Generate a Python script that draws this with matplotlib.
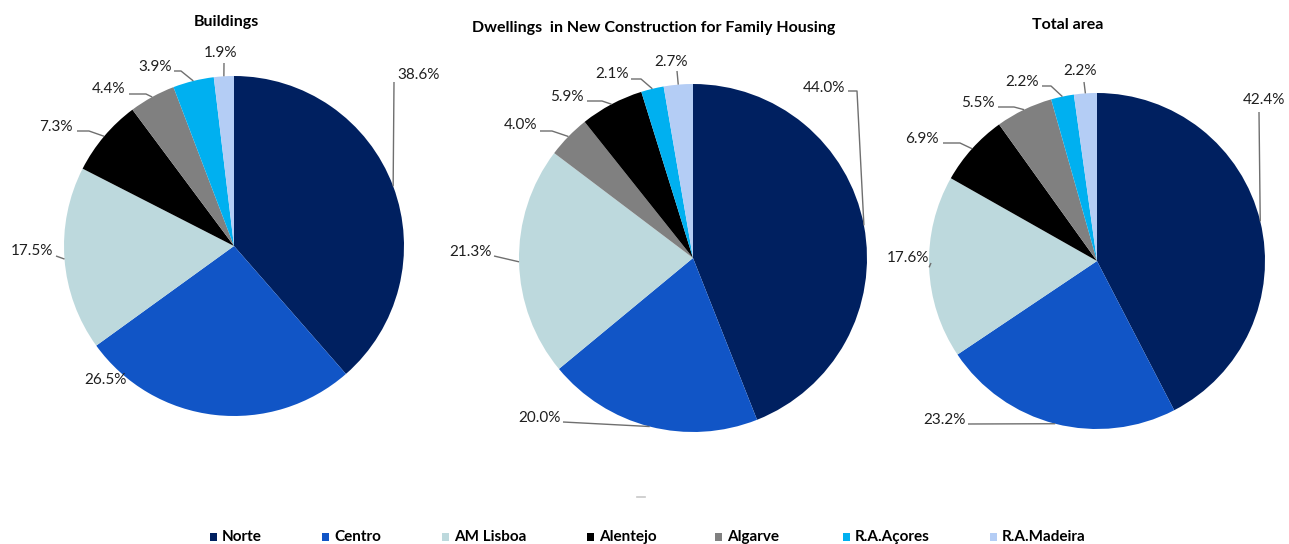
import numpy as np
import matplotlib
matplotlib.use("Agg")
import matplotlib.pyplot as plt
from matplotlib.patches import Rectangle

# ---------------- data ----------------
regions = ["Norte", "Centro", "AM Lisboa", "Alentejo", "Algarve", "R.A.Açores", "R.A.Madeira"]
colors = ["#002060", "#1155C6", "#BDD9DD", "#000000", "#808080", "#00B0F0", "#B4CDF5"]

titles = ["Buildings", "Dwellings  in New Construction for Family Housing", "Total area"]
buildings = [38.6, 26.5, 17.5, 7.3, 4.4, 3.9, 1.9]
dwellings = [44.0, 20.0, 21.3, 5.9, 4.0, 2.1, 2.7]
total_area = [42.4, 23.2, 17.6, 6.9, 5.5, 2.2, 2.2]
series = [buildings, dwellings, total_area]
# wedge drawing order (clockwise from 12 o'clock) as in the original charts
orders = [[0, 1, 2, 3, 4, 5, 6],
          [0, 1, 2, 4, 3, 5, 6],
          [0, 1, 2, 3, 4, 5, 6]]

# ---------------- layout (pixels) ----------------
W, H = 1289, 544
pies = [  # center x, center y, radius
    (234, 246, 170),
    (693, 258, 174),
    (1097, 261, 168),
]
title_pos = [(226, 22), (654, 28), (1068, 25)]
# per region: text center, leader start (near text), optional knee
label_layout = [
    {0: ((419, 75), (394, 82), None),
     1: ((105, 380), None, None),
     2: ((32, 251), (56, 256), None),
     3: ((56, 127), (77, 131), (89, 131)),
     4: ((109, 89), (129, 94), (146, 94)),
     5: ((155, 67), (174, 71), (181, 71)),
     6: ((221, 53), (224, 63), None)},
    {0: ((824, 88), (848, 91), (857, 91)),
     1: ((539, 418), (563, 422), None),
     2: ((470, 252), (494, 256), None),
     3: ((567, 97), (587, 101), (602, 101)),
     4: ((521, 125), (540, 131), (552, 131)),
     5: ((612, 74), (631, 79), (641, 79)),
     6: ((671, 62), (677, 71), None)},
    {0: ((1264, 100), (1259, 112), None),
     1: ((944, 420), (968, 424), None),
     2: ((908, 258), (931, 263), None),
     3: ((922, 139), (943, 143), (960, 143)),
     4: ((978, 103), (998, 107), (1014, 107)),
     5: ((1022, 82), (1042, 86), (1051, 86)),
     6: ((1080, 71), (1084, 82), None)},
]
legend_x = [210, 322, 442, 587, 715, 843, 990]
legend_y = 537

fig = plt.figure(figsize=(W / 100, H / 100), dpi=100)
ax = fig.add_axes([0, 0, 1, 1])

def fy(y):
    return H - y

for k, (vals, order) in enumerate(zip(series, orders)):
    cx, cy, r = pies[k]
    v = [vals[i] for i in order]
    c = [colors[i] for i in order]
    wedges, _ = ax.pie(v, colors=c, startangle=90, counterclock=False,
                       center=(cx, fy(cy)), radius=r,
                       wedgeprops=dict(linewidth=0))
    for w, idx in zip(wedges, order):
        mid = np.deg2rad((w.theta1 + w.theta2) / 2)
        ex, ey = cx + r * np.cos(mid), fy(cy) + r * np.sin(mid)
        (tx, ty), start, knee = label_layout[k][idx]
        ax.text(tx, fy(ty), f"{vals[idx]:.1f}%", ha="center", va="center",
                fontsize=11, family="Lato", color="#1f1f1f")
        if start is not None:
            pts = [start] + ([knee] if knee else [])
            xs = [p[0] for p in pts] + [ex]
            ys = [fy(p[1]) for p in pts] + [ey]
            ax.plot(xs, ys, color="#6f6f6f", lw=1.0, solid_capstyle="butt")
    tx, ty = title_pos[k]
    ax.text(tx, fy(ty), titles[k], ha="center", va="center", fontsize=11.5,
            family="Lato", fontweight="bold", color="#000000")

# small stray mark below the middle chart
ax.plot([637, 645], [fy(497), fy(497)], color="#c8c8c8", lw=1.2)

# legend
for name, col, lx in zip(regions, colors, legend_x):
    ax.add_patch(Rectangle((lx, fy(legend_y) - 4), 7, 8, facecolor=col, edgecolor="none"))
    ax.text(lx + 12, fy(legend_y), name, ha="left", va="center", fontsize=11,
            family="Lato", fontweight="bold", color="#000000")

ax.set_xlim(0, W)
ax.set_ylim(0, H)
ax.set_aspect("auto")
ax.set_axis_off()
fig.savefig("out.png", dpi=100)
